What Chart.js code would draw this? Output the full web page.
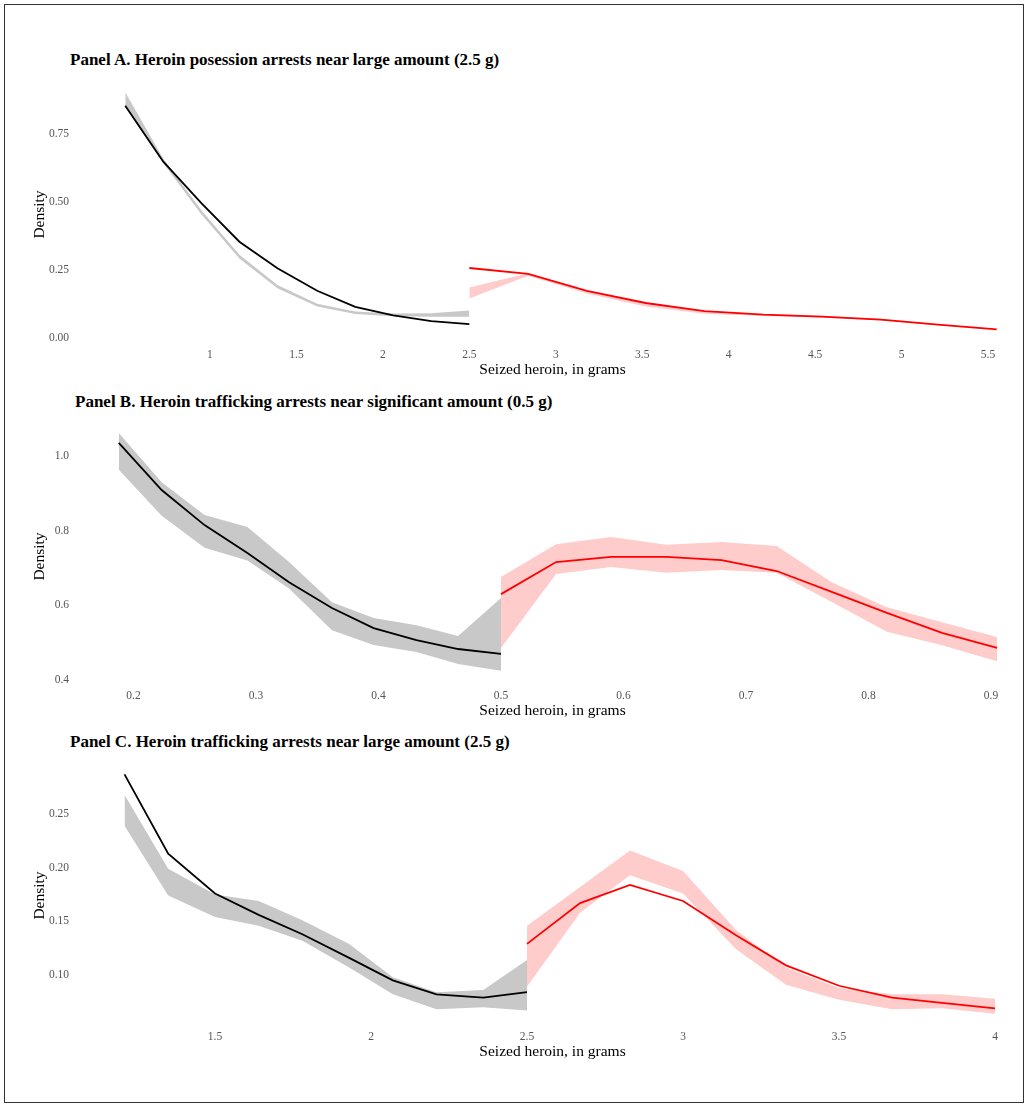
<!DOCTYPE html>
<html lang="en">
<head>
    <meta charset="UTF-8">
    <title>Heroin arrests density panels</title>
    <style>
        body {
            margin: 0;
            width: 1029px;
            height: 1109px;
            background: #ffffff;
            overflow: hidden;
            position: relative;
            font-family: 'Liberation Serif', 'Times New Roman', serif;
        }
        .frame {
            position: absolute;
            left: 4px;
            top: 4px;
            width: 1018px;
            height: 1097px;
            border: 1.5px solid #333333;
        }
        .panel-title {
            position: absolute;
            font-weight: bold;
            font-size: 17px;
            line-height: 20px;
            color: #000000;
            white-space: nowrap;
        }
        .box {
            position: absolute;
            left: 0;
            width: 1029px;
        }
    </style>
    <script src="https://cdn.jsdelivr.net/npm/chart.js@4.4.0/dist/chart.umd.min.js"></script>
</head>
<body>
    <div class="frame"></div>

    <div class="panel-title" style="left:70px; top:50px;">Panel A. Heroin posession arrests near large amount (2.5 g)</div>
    <div class="box" style="top:55px; height:324px;"><canvas id="chartA"></canvas></div>

    <div class="panel-title" style="left:75px; top:392px;">Panel B. Heroin trafficking arrests near significant amount (0.5 g)</div>
    <div class="box" style="top:398px; height:322px;"><canvas id="chartB"></canvas></div>

    <div class="panel-title" style="left:70px; top:732px;">Panel C. Heroin trafficking arrests near large amount (2.5 g)</div>
    <div class="box" style="top:735px; height:326px;"><canvas id="chartC"></canvas></div>

    <script>
        // Panel A - possession, 2.5 g threshold
        const aLeftX = [0.51, 0.73, 0.95, 1.17, 1.39, 1.62, 1.84, 2.06, 2.28, 2.50];
        const aLeftLine = [0.855, 0.649, 0.496, 0.354, 0.256, 0.173, 0.114, 0.082, 0.061, 0.050];
        const aLeftLow = [0.850, 0.643, 0.455, 0.292, 0.182, 0.115, 0.087, 0.079, 0.077, 0.077];
        const aLeftHigh = [0.905, 0.660, 0.470, 0.306, 0.194, 0.125, 0.097, 0.089, 0.090, 0.100];
        const aRightX = [2.50, 2.84, 3.18, 3.52, 3.86, 4.20, 4.54, 4.88, 5.21, 5.55];
        const aRightLine = [0.257, 0.235, 0.173, 0.128, 0.098, 0.085, 0.078, 0.067, 0.048, 0.031];
        const aRightLow = [0.145, 0.228, 0.163, 0.115, 0.088, 0.080, 0.074, 0.064, 0.046, 0.029];
        const aRightHigh = [0.185, 0.238, 0.174, 0.129, 0.099, 0.087, 0.080, 0.069, 0.050, 0.033];
        const aXTicks = [1, 1.5, 2, 2.5, 3, 3.5, 4, 4.5, 5, 5.5];
        const aXLabels = ['1', '1.5', '2', '2.5', '3', '3.5', '4', '4.5', '5', '5.5'];
        const aYTicks = [0, 0.25, 0.5, 0.75];
        const aYLabels = ['0.00', '0.25', '0.50', '0.75'];

        // Panel B - trafficking, 0.5 g threshold
        const bLeftX = [0.188, 0.223, 0.258, 0.293, 0.327, 0.362, 0.396, 0.431, 0.465, 0.500];
        const bLeftLine = [1.035, 0.909, 0.815, 0.740, 0.662, 0.593, 0.539, 0.507, 0.483, 0.470];
        const bLeftLow = [0.963, 0.840, 0.754, 0.720, 0.645, 0.533, 0.494, 0.475, 0.443, 0.425];
        const bLeftHigh = [1.062, 0.930, 0.842, 0.810, 0.716, 0.608, 0.566, 0.547, 0.518, 0.620];
        const bRightX = [0.500, 0.545, 0.590, 0.635, 0.680, 0.725, 0.770, 0.815, 0.860, 0.905];
        const bRightLine = [0.630, 0.716, 0.730, 0.730, 0.721, 0.692, 0.636, 0.580, 0.526, 0.486];
        const bRightLow = [0.486, 0.684, 0.703, 0.687, 0.695, 0.687, 0.609, 0.529, 0.493, 0.450];
        const bRightHigh = [0.676, 0.764, 0.783, 0.762, 0.770, 0.759, 0.662, 0.595, 0.555, 0.515];
        const bXTicks = [0.2, 0.3, 0.4, 0.5, 0.6, 0.7, 0.8, 0.9];
        const bXLabels = ['0.2', '0.3', '0.4', '0.5', '0.6', '0.7', '0.8', '0.9'];
        const bYTicks = [0.4, 0.6, 0.8, 1.0];
        const bYLabels = ['0.4', '0.6', '0.8', '1.0'];

        // Panel C - trafficking, 2.5 g threshold
        const cLeftX = [1.21, 1.35, 1.50, 1.64, 1.78, 1.93, 2.07, 2.21, 2.36, 2.50];
        const cLeftLine = [0.287, 0.213, 0.176, 0.156, 0.138, 0.116, 0.095, 0.082, 0.079, 0.084];
        const cLeftLow = [0.239, 0.174, 0.154, 0.146, 0.132, 0.107, 0.082, 0.068, 0.070, 0.067];
        const cLeftHigh = [0.268, 0.199, 0.175, 0.169, 0.151, 0.129, 0.098, 0.084, 0.086, 0.114];
        const cRightX = [2.50, 2.67, 2.83, 3.00, 3.17, 3.33, 3.50, 3.67, 3.83, 4.00];
        const cRightLine = [0.129, 0.167, 0.184, 0.169, 0.137, 0.109, 0.090, 0.079, 0.074, 0.069];
        const cRightLow = [0.089, 0.158, 0.193, 0.176, 0.124, 0.091, 0.077, 0.068, 0.069, 0.064];
        const cRightHigh = [0.146, 0.182, 0.216, 0.197, 0.142, 0.107, 0.088, 0.082, 0.082, 0.078];
        const cXTicks = [1.5, 2, 2.5, 3, 3.5, 4];
        const cXLabels = ['1.5', '2', '2.5', '3', '3.5', '4'];
        const cYTicks = [0.10, 0.15, 0.20, 0.25];
        const cYLabels = ['0.10', '0.15', '0.20', '0.25'];

        const SERIF = "'Liberation Serif', 'Times New Roman', serif";

        function pts(xs, ys) {
            return xs.map((x, i) => ({ x: x, y: ys[i] }));
        }

        function buildPanel(canvasId, p) {
            new Chart(document.getElementById(canvasId), {
                type: 'line',
                data: {
                    datasets: [
                        { data: pts(p.leftX, p.leftLine), borderColor: '#000000', borderWidth: 1.8 },
                        { data: pts(p.rightX, p.rightLine), borderColor: '#ff0000', borderWidth: 1.8 },
                        { data: pts(p.leftX, p.leftHigh), borderColor: 'transparent', borderWidth: 0, backgroundColor: '#c8c8c8', fill: '+1' },
                        { data: pts(p.leftX, p.leftLow), borderColor: 'transparent', borderWidth: 0, fill: false },
                        { data: pts(p.rightX, p.rightHigh), borderColor: 'transparent', borderWidth: 0, backgroundColor: '#ffcccc', fill: '+1' },
                        { data: pts(p.rightX, p.rightLow), borderColor: 'transparent', borderWidth: 0, fill: false }
                    ]
                },
                options: {
                    responsive: true,
                    maintainAspectRatio: false,
                    animation: false,
                    events: [],
                    elements: {
                        point: { radius: 0 },
                        line: { tension: 0 }
                    },
                    // top padding has to clear the y tick padding + half a label (about 28px)
                    layout: { padding: { left: 25, right: 14, top: 30, bottom: 0 } },
                    plugins: {
                        legend: { display: false },
                        tooltip: { enabled: false }
                    },
                    scales: {
                        x: {
                            type: 'linear',
                            min: p.xMin,
                            max: p.xMax,
                            grid: { display: false, drawTicks: false },
                            border: { display: false },
                            afterBuildTicks: s => { s.ticks = p.xTicks.map(v => ({ value: v })); },
                            afterFit: s => { s.height = 35; },
                            ticks: {
                                autoSkip: false,
                                maxRotation: 0,
                                padding: 4,
                                color: '#555555',
                                font: { family: SERIF, size: 11.5 },
                                callback: (v, i) => p.xLabels[i]
                            },
                            title: {
                                display: true,
                                text: 'Seized heroin, in grams',
                                color: '#000000',
                                font: { family: SERIF, size: 15.5 },
                                padding: { top: 0, bottom: 0 }
                            }
                        },
                        y: {
                            min: p.yMin,
                            max: p.yMax,
                            grid: { display: false, drawTicks: false },
                            border: { display: false },
                            afterBuildTicks: s => { s.ticks = p.yTicks.map(v => ({ value: v })); },
                            afterFit: s => { s.width = 65; },
                            ticks: {
                                padding: 21,
                                color: '#555555',
                                font: { family: SERIF, size: 11.5 },
                                callback: (v, i) => p.yLabels[i]
                            },
                            title: {
                                display: true,
                                text: 'Density',
                                color: '#000000',
                                font: { family: SERIF, size: 15.5 },
                                padding: { top: 6, bottom: 0 }
                            }
                        }
                    }
                }
            });
        }

        buildPanel('chartA', {
            leftX: aLeftX, leftLine: aLeftLine, leftLow: aLeftLow, leftHigh: aLeftHigh,
            rightX: aRightX, rightLine: aRightLine, rightLow: aRightLow, rightHigh: aRightHigh,
            xTicks: aXTicks, xLabels: aXLabels, yTicks: aYTicks, yLabels: aYLabels,
            xMin: 0.306, xMax: 5.656, yMin: -0.0232, yMax: 0.9318
        });

        buildPanel('chartB', {
            leftX: bLeftX, leftLine: bLeftLine, leftLow: bLeftLow, leftHigh: bLeftHigh,
            rightX: bRightX, rightLine: bRightLine, rightLow: bRightLow, rightHigh: bRightHigh,
            xTicks: bXTicks, xLabels: bXLabels, yTicks: bYTicks, yLabels: bYLabels,
            xMin: 0.1645, xMax: 0.9196, yMin: 0.3866, yMax: 1.0751
        });

        buildPanel('chartC', {
            leftX: cLeftX, leftLine: cLeftLine, leftLow: cLeftLow, leftHigh: cLeftHigh,
            rightX: cRightX, rightLine: cRightLine, rightLow: cRightLow, rightHigh: cRightHigh,
            xTicks: cXTicks, xLabels: cXLabels, yTicks: cYTicks, yLabels: cYLabels,
            xMin: 1.0994, xMax: 4.064, yMin: 0.0525, yMax: 0.2957
        });
    </script>
</body>
</html>
